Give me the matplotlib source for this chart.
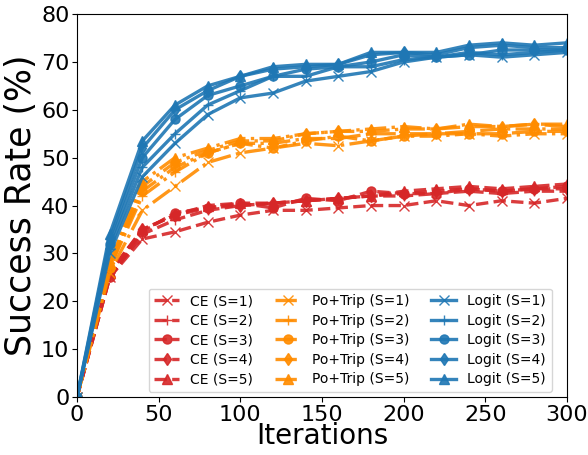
import numpy as np
import matplotlib
matplotlib.use('Agg')
from matplotlib import pyplot as plt

iters = [0, 20, 40, 60, 80, 100, 120, 140, 160, 180, 200, 220, 240, 260, 280, 300]

ce = [
    [0, 25, 33, 34.5, 36.5, 38, 39, 39, 39.5, 40, 40, 41, 40, 41, 40.5, 41.5],
    [0, 25, 34, 37, 39, 40, 40.5, 41, 41.5, 42, 42, 42.5, 43, 42.5, 43, 43],
    [0, 25, 34.5, 38.5, 39.5, 40.5, 39.5, 41.5, 41, 43, 42.5, 42.5, 43.5, 43, 43.5, 44],
    [0, 26, 35, 38, 39.5, 40, 40.5, 41, 41.5, 42, 42.5, 43, 43.5, 43, 43.5, 43.5],
    [0, 26, 35, 38, 40, 40.5, 40.5, 41, 41.5, 42, 43, 43.5, 44, 43.5, 44, 44.5],
]
potrip = [
    [0, 26, 39, 44, 49, 51, 52, 53, 52.5, 53.5, 54.5, 54.5, 55, 54.5, 55, 55],
    [0, 27, 42, 47, 51, 53, 53, 54, 54, 55, 55, 55, 55.5, 56, 56, 56],
    [0, 27, 43, 48, 51, 53, 52, 53.5, 54.5, 53.5, 54.5, 55, 55, 55, 55.5, 55.5],
    [0, 28, 44, 49, 51.5, 53.5, 53.5, 55, 55.5, 55.5, 56, 56, 56.5, 56.5, 57, 56.5],
    [0, 28, 45, 50, 52, 54, 54, 55, 55.5, 56, 56.5, 56, 57, 56.5, 57, 57],
]
logit = [
    [0, 30, 46, 53, 59, 62.5, 63.5, 66, 67, 68, 70, 71, 71.5, 71, 71.5, 72],
    [0, 31, 48, 55, 61, 64, 67, 67, 69, 69, 70.5, 71, 72, 71.5, 72, 72.5],
    [0, 32, 50, 58, 63, 65, 67, 68.5, 69, 70, 71.5, 71, 71.5, 72.5, 72.5, 72.5],
    [0, 33, 52, 60, 64, 67, 68.5, 69, 69.5, 71.5, 72, 71.5, 73, 73.5, 73, 73],
    [0, 34, 53.5, 61, 65, 67, 69, 69.5, 69.5, 72, 72, 72, 73.5, 74, 73.5, 74],
]

markers = ['x', '+', 'o', 'd', '^']

fig = plt.figure(figsize=(5.88, 4.55), dpi=100)
ax = fig.add_axes([0.131, 0.1275, 0.833, 0.8415])

groups = [('CE', ce, '#d62728', '--'),
          ('Po+Trip', potrip, 'darkorange', '-.'),
          ('Logit', logit, '#1f77b4', '-')]
for name, data, col, ls in groups:
    for s in range(5):
        ax.plot(iters, data[s], color=col, linestyle=ls, marker=markers[s],
                linewidth=2.4, markersize=6.5, alpha=0.9,
                label='%s (S=%d)' % (name, s + 1))

ax.set_xlim(0, 300)
ax.set_ylim(0, 80)
ax.set_xticks([0, 50, 100, 150, 200, 250, 300])
ax.tick_params(labelsize=16, pad=2)
ax.set_xlabel('Iterations', fontsize=20, labelpad=-2)
ax.set_ylabel('Success Rate (%)', fontsize=25, labelpad=2)
ax.legend(ncol=3, loc='lower right', bbox_to_anchor=(0.969, 0.013),
          borderaxespad=0, fontsize=10, handlelength=1.8,
          columnspacing=1.6, labelspacing=0.4)

fig.savefig('out.png', dpi=100)
